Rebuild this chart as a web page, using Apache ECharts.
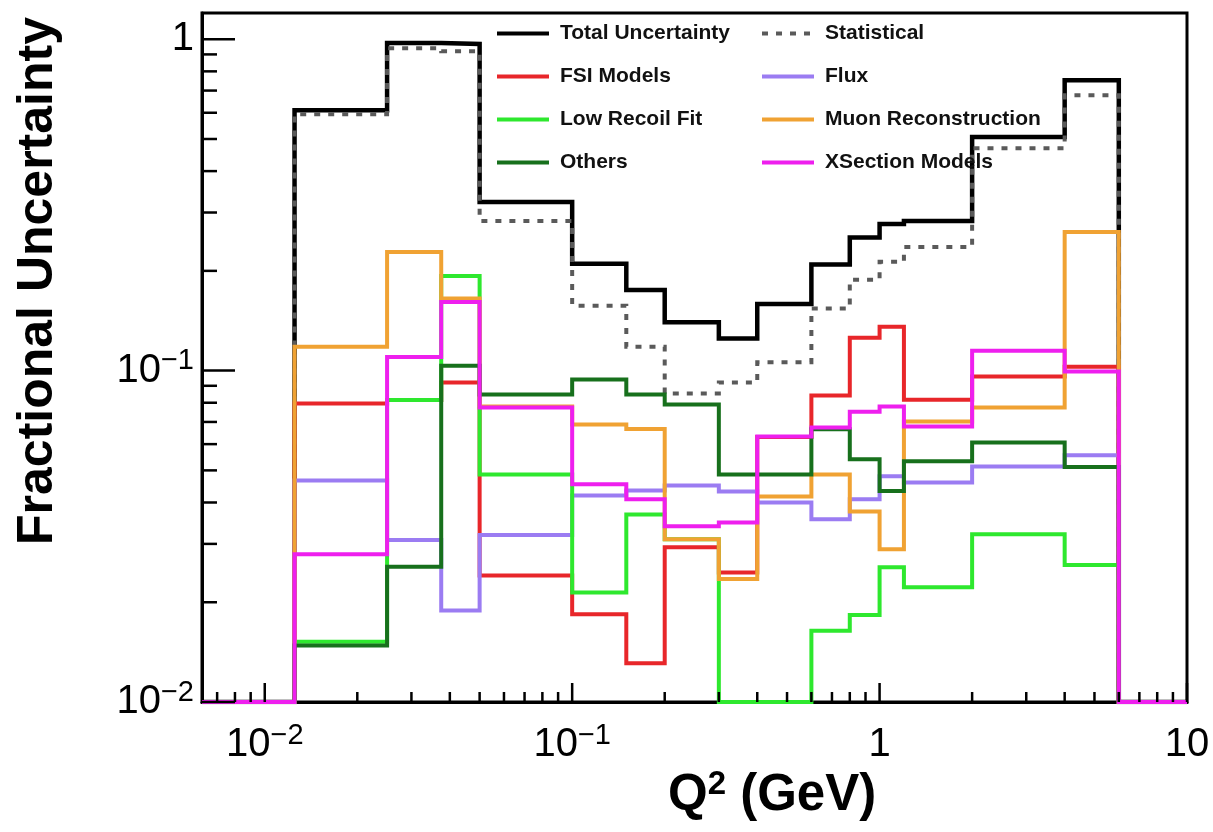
<!DOCTYPE html>
<html>
<head>
<meta charset="utf-8">
<script src="https://cdn.jsdelivr.net/npm/echarts@6/dist/echarts.min.js"></script>
<style>
  html, body { margin: 0; padding: 0; background: #fff; }
  #chart { width: 1213px; height: 832px; }
</style>
</head>
<body>
<div id="chart"></div>
<script>
// Q^2 bin edges (GeV), 17 bins
const binEdges = [0.00625, 0.0125, 0.025, 0.0375, 0.05, 0.1, 0.15, 0.2, 0.3, 0.4, 0.6, 0.8, 1.0, 1.2, 2.0, 4.0, 6.0, 10.0];

// Fractional uncertainty per bin
const totalUnc   = [0, 0.611, 0.975, 0.968, 0.323, 0.210, 0.175, 0.140, 0.125, 0.159, 0.209, 0.252, 0.277, 0.283, 0.507, 0.752, 0];
const statUnc    = [0, 0.594, 0.940, 0.920, 0.283, 0.157, 0.118, 0.0853, 0.092, 0.106, 0.154, 0.188, 0.213, 0.236, 0.469, 0.678, 0];
const fsiUnc     = [0, 0.0796, 0.0815, 0.092, 0.0241, 0.0184, 0.0131, 0.0293, 0.0246, 0.063, 0.0841, 0.1257, 0.1357, 0.0817, 0.096, 0.1028, 0];
const fluxUnc    = [0, 0.0466, 0.0308, 0.0189, 0.0319, 0.0420, 0.0435, 0.0450, 0.0432, 0.040, 0.0356, 0.0409, 0.048, 0.046, 0.0514, 0.0555, 0];
const recoilUnc  = [0, 0.0152, 0.0815, 0.193, 0.0486, 0.0214, 0.0368, 0.031, 0, 0, 0.0164, 0.0183, 0.0255, 0.0222, 0.0321, 0.0259, 0];
const muonUnc    = [0, 0.118, 0.228, 0.165, 0.078, 0.0688, 0.0667, 0.031, 0.0235, 0.0417, 0.0486, 0.0376, 0.0289, 0.0702, 0.0774, 0.262, 0];
const othersUnc  = [0, 0.0148, 0.0256, 0.1035, 0.0847, 0.094, 0.0847, 0.079, 0.0486, 0.0486, 0.0665, 0.054, 0.0433, 0.0533, 0.0607, 0.0512, 0];
const xsecUnc    = [0, 0.0279, 0.110, 0.161, 0.0774, 0.0454, 0.0409, 0.0339, 0.0348, 0.0633, 0.0673, 0.0752, 0.078, 0.0678, 0.1149, 0.0994, 0];

// Axis ranges and tick values
const X_MIN = 0.00625, X_MAX = 10;
const Y_MIN = 0.01, Y_MAX = 1.2;
const xMajorTicks = [0.01, 0.1, 1, 10];
const xMinorTicks = [0.007, 0.008, 0.009,
  0.02, 0.03, 0.04, 0.05, 0.06, 0.07, 0.08, 0.09,
  0.2, 0.3, 0.4, 0.5, 0.6, 0.7, 0.8, 0.9,
  2, 3, 4, 5, 6, 7, 8, 9];
const yMajorTicks = [0.01, 0.1, 1];
const yMinorTicks = [0.02, 0.03, 0.04, 0.05, 0.06, 0.07, 0.08, 0.09,
  0.2, 0.3, 0.4, 0.5, 0.6, 0.7, 0.8, 0.9];

const FONT = '"Liberation Sans", Arial, Helvetica, sans-serif';

// Histogram outline: each bin becomes a flat segment; empty bins sit on the frame floor
function histSteps(vals) {
  const pts = [];
  for (let i = 0; i < vals.length; i++) {
    const v = Math.max(vals[i], Y_MIN);
    pts.push([binEdges[i], v], [binEdges[i + 1], v]);
  }
  return pts;
}

function histSeries(name, vals, color, width, dash) {
  return {
    name: name,
    type: 'line',
    data: histSteps(vals),
    symbol: 'none',
    showSymbol: false,
    clip: true,
    animation: false,
    lineStyle: { color: color, width: width, type: dash || 'solid', cap: 'butt', join: 'miter' },
    itemStyle: { color: color }
  };
}

function powLabel(v) {
  const e = Math.log10(v);
  const r = Math.round(e);
  if (Math.abs(e - r) > 1e-6) return '';
  if (r === 0) return '{b|1}';
  if (r === 1) return '{b|10}';
  return '{b|10}{s|' + (r < 0 ? '\u2212' : '') + Math.abs(r) + '}';
}

const labelRich = {
  b: { fontSize: 40, fontFamily: FONT, color: '#000', lineHeight: 48 },
  s: { fontSize: 29, fontFamily: FONT, color: '#000', lineHeight: 29, verticalAlign: 'top' }
};

// Tick marks drawn inside the frame
const xTickData = xMajorTicks.map(v => [v, Y_MIN, 19]).concat(xMinorTicks.map(v => [v, Y_MIN, 10]));
const yTickData = yMajorTicks.map(v => [X_MIN, v, 33]).concat(yMinorTicks.map(v => [X_MIN, v, 15]));

const chart = echarts.init(document.getElementById('chart'), null, { renderer: 'canvas' });

const legendText = { fontSize: 21, fontWeight: 'bold', color: '#111', fontFamily: FONT, padding: [0, 0, 0, 6] };
const legendCommon = {
  orient: 'vertical', top: 23, padding: 0,
  itemWidth: 52, itemHeight: 14, itemGap: 22,
  itemStyle: { opacity: 0 },
  lineStyle: { width: 4 },
  textStyle: legendText, selectedMode: false
};

chart.setOption({
  backgroundColor: '#fff',
  animation: false,
  grid: {
    left: 202, right: 26, top: 13, bottom: 130,
    show: true, borderColor: '#000', borderWidth: 3, backgroundColor: 'transparent'
  },
  xAxis: {
    type: 'log', logBase: 10, min: X_MIN, max: X_MAX,
    axisLine: { show: true, lineStyle: { color: '#000', width: 3 } },
    axisTick: { show: false },
    splitLine: { show: false },
    minorTick: { show: false },
    axisLabel: { formatter: powLabel, rich: labelRich, margin: 19 }
  },
  yAxis: {
    type: 'log', logBase: 10, min: Y_MIN, max: Y_MAX,
    axisLine: { show: true, lineStyle: { color: '#000', width: 3 } },
    axisTick: { show: false },
    splitLine: { show: false },
    minorTick: { show: false },
    axisLabel: { formatter: powLabel, rich: labelRich, margin: 8 }
  },
  legend: [
    Object.assign({ data: ['Total Uncertainty', 'FSI Models', 'Low Recoil Fit', 'Others'], left: 495 }, legendCommon),
    Object.assign({ data: ['Statistical', 'Flux', 'Muon Reconstruction', 'XSection Models'], left: 760 }, legendCommon)
  ],
  graphic: [
    {
      type: 'text', x: 38, y: 281, rotation: Math.PI / 2, z: 100,
      style: {
        text: 'Fractional Uncertainty', fill: '#000',
        font: 'bold 50px ' + FONT, align: 'center', verticalAlign: 'middle'
      }
    },
    {
      type: 'text', x: 668, y: 796, z: 100,
      style: {
        text: '{n|Q}{s|2}{n| (GeV)}', fill: '#000',
        align: 'left', verticalAlign: 'middle',
        rich: {
          n: { font: 'bold 51px ' + FONT, fill: '#000', lineHeight: 56 },
          s: { font: 'bold 33px ' + FONT, fill: '#000', lineHeight: 33, verticalAlign: 'top' }
        }
      }
    }
  ],
  series: [
    histSeries('Total Uncertainty', totalUnc, '#000000', 4.5),
    histSeries('Statistical', statUnc, '#5a5a5a', 4, [6, 8]),
    histSeries('FSI Models', fsiUnc, '#e8262a', 4),
    histSeries('Flux', fluxUnc, '#9b7cf2', 4),
    histSeries('Low Recoil Fit', recoilUnc, '#2ee82e', 4),
    histSeries('Muon Reconstruction', muonUnc, '#f0a233', 4),
    histSeries('Others', othersUnc, '#17701c', 4),
    histSeries('XSection Models', xsecUnc, '#ee1fee', 4),
    {
      type: 'custom', silent: true, z: 10, animation: false, clip: false,
      data: xTickData,
      renderItem: function (params, api) {
        const p = api.coord([api.value(0), api.value(1)]);
        return {
          type: 'line',
          shape: { x1: p[0], y1: p[1], x2: p[0], y2: p[1] - api.value(2) },
          style: { stroke: '#000', lineWidth: 2.5 }
        };
      }
    },
    {
      type: 'custom', silent: true, z: 10, animation: false, clip: false,
      data: yTickData,
      renderItem: function (params, api) {
        const p = api.coord([api.value(0), api.value(1)]);
        return {
          type: 'line',
          shape: { x1: p[0], y1: p[1], x2: p[0] + api.value(2), y2: p[1] },
          style: { stroke: '#000', lineWidth: 2.5 }
        };
      }
    }
  ]
});
</script>
</body>
</html>
